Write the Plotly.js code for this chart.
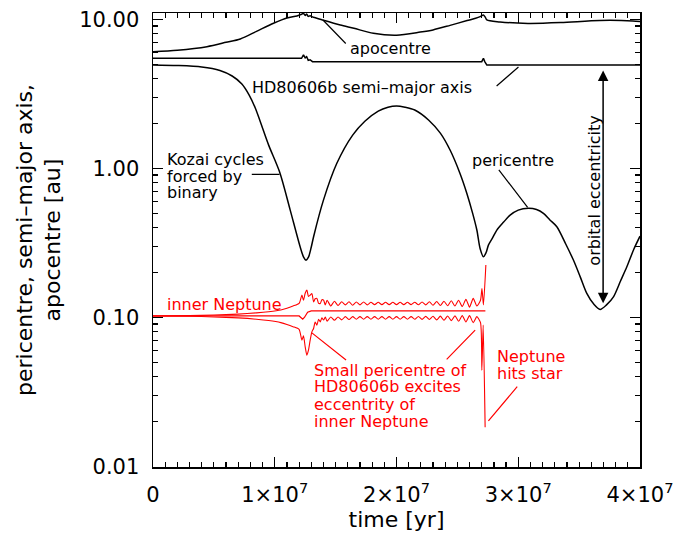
<!DOCTYPE html>
<html>
<head>
<meta charset="utf-8">
<script src="https://cdn.plot.ly/plotly-3.0.1.min.js"></script>
<style>
  html, body { margin: 0; padding: 0; background: #fff; }
  #chart { width: 692px; height: 538px; }
</style>
</head>
<body>
<div id="chart"></div>
<script>
// ---------------- data (time in Myr, distances in au) ----------------
// HD80606b pericentre
const periT = [0, 2, 4, 5.5, 6.5, 7.3, 7.9, 8.4, 8.8, 9.5, 10.4, 11.27, 12.09, 12.36, 12.56, 12.78, 13.0, 13.19, 14.0, 15.1, 16.4, 17.4, 18.5, 19.3, 20.0, 20.7, 21.5, 22.63, 23.6, 24.41, 25.2, 25.78, 26.25, 26.6, 26.87, 27.14, 27.36, 27.55, 27.9, 28.24, 28.8, 29.33, 30.0, 30.84, 31.5, 32.07, 32.6, 33.17, 33.9, 34.53, 35.1, 35.63, 36.2, 36.72, 37.25, 37.82, 38.4, 38.92, 39.5, 40];
const periV = [4.93, 4.89, 4.78, 4.53, 4.16, 3.68, 3.10, 2.54, 2.07, 1.43, 0.943, 0.524, 0.296, 0.2545, 0.242, 0.2545, 0.296, 0.347, 0.611, 1.08, 1.67, 2.07, 2.42, 2.57, 2.62, 2.57, 2.46, 2.11, 1.72, 1.32, 0.93, 0.678, 0.50, 0.385, 0.288, 0.2545, 0.272, 0.305, 0.342, 0.3846, 0.435, 0.485, 0.524, 0.538, 0.528, 0.498, 0.45, 0.405, 0.31, 0.242, 0.186, 0.1445, 0.1225, 0.1128, 0.121, 0.137, 0.175, 0.218, 0.287, 0.35];

// HD80606b apocentre
const apoT = [0, 2, 4.43, 6, 7.17, 8.5, 9.9, 11.0, 11.82, 12.2, 12.36, 12.5, 12.62, 12.75, 12.9, 13.18, 14.0, 15.38, 16.5, 18.1, 20.0, 21.95, 23.0, 24.4, 25.8, 26.5, 26.87, 27.14, 27.3, 27.42, 28.5, 30.8, 33.5, 36.7, 39.4, 40];
const apoV = [6.06, 6.2, 6.55, 7.0, 7.38, 8.3, 9.4, 10.2, 10.52, 10.8, 10.95, 10.6, 10.85, 10.45, 10.55, 10.31, 9.85, 9.16, 8.7, 8.05, 7.82, 8.2, 8.48, 9.1, 9.8, 10.15, 10.41, 10.69, 10.3, 9.89, 9.6, 9.38, 9.5, 9.82, 9.75, 9.65];

// HD80606b semi-major axis
const smaT = [0, 12.2, 12.36, 12.5, 12.62, 12.75, 12.9, 13.1, 27.0, 27.14, 27.25, 27.42, 40];
const smaV = [5.47, 5.47, 5.76, 5.5, 5.6, 5.3, 5.35, 5.19, 5.19, 5.47, 5.2, 4.93, 4.93];

// inner Neptune semi-major axis
const nepMidT = [0, 12.0, 12.3, 12.45, 12.7, 13.0, 27.3];
const nepMidV = [0.102, 0.102, 0.097, 0.100, 0.108, 0.1104, 0.1104];

// inner Neptune apocentre / pericentre (shared sample times)
const nepPreT   = [0, 3, 5, 7, 8.5, 9.5, 10.5, 11.0, 11.5, 12.0];
const nepSpikeT = [12.23, 12.36, 12.5, 12.64, 12.77, 12.91, 13.05, 13.19, 13.32, 13.46, 13.6, 13.74, 13.87, 14.01, 14.15];
const nepWigT   = [14.3, 14.6, 14.9, 15.2, 15.5, 15.8, 16.1, 16.4, 16.7, 17.0, 17.3, 17.6, 17.9, 18.2, 18.5, 18.8, 19.1, 19.4, 19.7, 20.0, 20.3, 20.6, 20.9, 21.2, 21.5, 21.8, 22.1, 22.4, 22.7, 23.0, 23.3, 23.6, 23.9, 24.2, 24.5, 24.8, 25.1, 25.4, 25.7, 26.0, 26.3, 26.6, 26.9];

const nepApoPre   = [0.102, 0.1025, 0.1035, 0.105, 0.107, 0.109, 0.112, 0.115, 0.119, 0.124];
const nepApoSpike = [0.1407, 0.130, 0.145, 0.152, 0.138, 0.1407, 0.1444, 0.1268, 0.133, 0.1337, 0.124, 0.1238, 0.131, 0.1302, 0.121];
const nepApoWig   = [0.130, 0.119, 0.128, 0.120, 0.127, 0.121, 0.127, 0.1205, 0.1265, 0.121, 0.1265, 0.121, 0.126, 0.1215, 0.126, 0.1215, 0.126, 0.1215, 0.126, 0.1215, 0.126, 0.1215, 0.126, 0.1215, 0.1262, 0.1212, 0.1265, 0.121, 0.127, 0.1205, 0.1275, 0.120, 0.128, 0.1195, 0.129, 0.119, 0.130, 0.118, 0.132, 0.117, 0.134, 0.119, 0.130];
const nepApoEndT  = [27.02, 27.14, 27.34];
const nepApoEndV  = [0.156, 0.121, 0.224];

const nepPeriPre   = [0.102, 0.1015, 0.1005, 0.099, 0.097, 0.095, 0.092, 0.0895, 0.0865, 0.083];
const nepPeriSpike = [0.0702, 0.075, 0.0633, 0.0556, 0.0601, 0.0702, 0.0798, 0.0841, 0.093, 0.0885, 0.097, 0.0931, 0.099, 0.0958, 0.1005];
const nepPeriWig   = [0.094, 0.1005, 0.0955, 0.1005, 0.096, 0.101, 0.0965, 0.101, 0.097, 0.101, 0.097, 0.101, 0.097, 0.101, 0.097, 0.101, 0.097, 0.101, 0.097, 0.101, 0.097, 0.101, 0.097, 0.101, 0.097, 0.1012, 0.0968, 0.1013, 0.0965, 0.1015, 0.096, 0.1017, 0.0955, 0.102, 0.095, 0.1022, 0.094, 0.1025, 0.093, 0.1025, 0.092, 0.101, 0.092];
const nepPeriEndT  = [27.01, 27.12, 27.28];
const nepPeriEndV  = [0.0441, 0.0885, 0.0183];

// axis ticks
const xTickVals = [0, 1e7, 2e7, 3e7, 4e7];
const xTickText = ['0', '1\u00d710<sup>7</sup>', '2\u00d710<sup>7</sup>', '3\u00d710<sup>7</sup>', '4\u00d710<sup>7</sup>'];
const yTickVals = [0.01, 0.1, 1, 10];
const yTickText = ['0.01', '0.10', '1.00', '10.00'];
const yMinorVals = [0.02,0.03,0.04,0.05,0.06,0.07,0.08,0.09, 0.2,0.3,0.4,0.5,0.6,0.7,0.8,0.9, 2,3,4,5,6,7,8,9];

// ---------------- drawing ----------------
const yr = arr => arr.map(v => v * 1e6);
const BLACK = '#000000', RED = '#ff0000';
const smoothBlack = { color: BLACK, width: 1.5, shape: 'spline', smoothing: 0.8 };

const traces = [
  { x: yr(periT), y: periV, mode: 'lines', line: smoothBlack, name: 'pericentre' },
  { x: yr(apoT), y: apoV, mode: 'lines', line: smoothBlack, name: 'apocentre' },
  { x: yr(smaT), y: smaV, mode: 'lines', line: { color: BLACK, width: 1.5 }, name: 'semi-major axis' },
  { x: yr(nepMidT), y: nepMidV, mode: 'lines', line: { color: RED, width: 1.2 }, name: 'inner Neptune a' },
  { x: yr(nepPreT.concat(nepSpikeT, nepWigT, nepApoEndT)),
    y: nepApoPre.concat(nepApoSpike, nepApoWig, nepApoEndV),
    mode: 'lines', line: { color: RED, width: 1.1, shape: 'spline', smoothing: 0.6 }, name: 'inner Neptune apocentre' },
  { x: yr(nepPreT.concat(nepSpikeT, nepWigT, nepPeriEndT)),
    y: nepPeriPre.concat(nepPeriSpike, nepPeriWig, nepPeriEndV),
    mode: 'lines', line: { color: RED, width: 1.1, shape: 'spline', smoothing: 0.6 }, name: 'inner Neptune pericentre' }
];

function label(x, ly, text, color, extra) {
  return Object.assign({ x: x, y: ly, xref: 'x', yref: 'y', text: text, showarrow: false,
    xanchor: 'left', yanchor: 'middle', font: { size: 16, color: color } }, extra || {});
}
function leader(x0, ly0, x1, ly1, color) {
  return { x: x1, y: ly1, ax: x0, ay: ly0, xref: 'x', yref: 'y', axref: 'x', ayref: 'y',
    text: '', showarrow: true, arrowhead: 0, arrowwidth: 1.2, arrowcolor: color,
    standoff: 0, startstandoff: 0 };
}

const annotations = [
  label(1.603e7, 0.807, 'apocentre', BLACK),
  leader(1.595e7, 0.8274, 1.396e7, 0.9953, BLACK),
  label(0.799e7, 0.5453, 'HD80606b semi\u2013major axis', BLACK),
  leader(2.810e7, 0.5433, 3.0017e7, 0.6796, BLACK),
  label(0.101e7, 0.0597, 'Kozai cycles', BLACK),
  label(0.101e7, -0.0524, 'forced by', BLACK),
  label(0.101e7, -0.1646, 'binary', BLACK),
  leader(0.799e7, -0.0410, 1.039e7, -0.0410, BLACK),
  label(2.606e7, 0.0551, 'pericentre', BLACK),
  leader(2.831e7, -0.0007, 3.077e7, -0.2626, BLACK),
  label(3.619e7, -0.153, 'orbital eccentricity', BLACK, { xanchor: 'center', textangle: -90 }),
  { x: 3.697e7, y: -0.9053, ax: 3.697e7, ay: 0.6662, xref: 'x', yref: 'y', axref: 'x', ayref: 'y',
    text: '', showarrow: true, arrowside: 'end+start', arrowhead: 2, startarrowhead: 2,
    arrowsize: 1.4, startarrowsize: 1.4, arrowwidth: 1.5, arrowcolor: BLACK, standoff: 0, startstandoff: 0 },
  label(0.101e7, -0.9141, 'inner Neptune', RED),
  label(1.305e7, -1.3553, 'Small pericentre of', RED),
  label(1.305e7, -1.4675, 'HD80606b excites', RED),
  label(1.305e7, -1.5857, 'eccentrity of', RED),
  label(1.305e7, -1.6978, 'inner Neptune', RED),
  leader(1.598e7, -1.2948, 1.305e7, -1.1048, RED),
  leader(2.400e7, -1.2928, 2.646e7, -1.0866, RED),
  label(2.810e7, -1.2660, 'Neptune', RED),
  label(2.810e7, -1.3775, 'hits star', RED),
  leader(3.002e7, -1.4561, 2.755e7, -1.6959, RED)
];

const axisCommon = {
  showline: true, linecolor: BLACK, linewidth: 1.5, mirror: 'allticks',
  ticks: 'inside', ticklen: 10, tickwidth: 1.3, tickcolor: BLACK,
  showgrid: false, zeroline: false, automargin: false,
  tickfont: { size: 21, color: BLACK }
};

const layout = {
  width: 692, height: 538,
  margin: { l: 153, r: 52, t: 13, b: 71, pad: 0 },
  paper_bgcolor: '#ffffff', plot_bgcolor: '#ffffff',
  showlegend: false,
  font: { family: 'DejaVu Sans, sans-serif', color: BLACK, size: 16 },
  xaxis: Object.assign({}, axisCommon, {
    range: [0, 4e7], tickmode: 'array', tickvals: xTickVals, ticktext: xTickText,
    ticklabelstandoff: 8,
    title: { text: 'time [yr]', font: { size: 22, color: BLACK }, standoff: 4 },
    minor: { tickmode: 'linear', tick0: 0, dtick: 1e6, ticks: 'inside', ticklen: 5, tickwidth: 1.2, tickcolor: BLACK, showgrid: false }
  }),
  yaxis: Object.assign({}, axisCommon, {
    type: 'log', range: [-2.005, 1.042], tickmode: 'array', tickvals: yTickVals, ticktext: yTickText,
    ticklabelstandoff: 8,
    title: { text: 'pericentre, semi\u2013major axis,<br>apocentre [au]', font: { size: 22, color: BLACK }, standoff: 12 },
    minor: { tickmode: 'array', tickvals: yMinorVals, ticks: 'inside', ticklen: 5, tickwidth: 1.2, tickcolor: BLACK, showgrid: false }
  }),
  annotations: annotations
};

Plotly.newPlot('chart', traces, layout, { displayModeBar: false, staticPlot: true });
</script>
</body>
</html>
